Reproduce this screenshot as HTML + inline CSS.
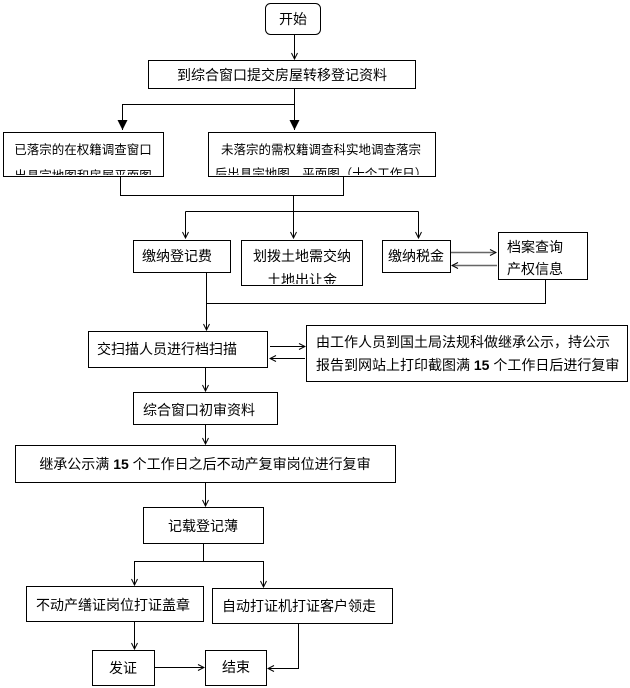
<!DOCTYPE html>
<html><head><meta charset="utf-8"><style>
html,body{margin:0;padding:0;background:#fff;}
svg{display:block;}
text{font-family:"Liberation Sans","Noto Sans CJK SC",sans-serif;font-size:14px;fill:#000;}
.s{font-size:12.5px;}
</style></head><body>
<svg width="630" height="688" viewBox="0 0 630 688" xmlns="http://www.w3.org/2000/svg">
<defs>
<marker id="a" markerWidth="8" markerHeight="8" refX="7" refY="4" orient="auto" markerUnits="userSpaceOnUse"><path d="M1,1 L7,4 L1,7" fill="none" stroke="#000" stroke-width="1"/></marker>
<marker id="b" markerWidth="12" markerHeight="12" refX="10" refY="5" orient="auto" markerUnits="userSpaceOnUse"><path d="M0,0 L10,5 L0,10 z" fill="#000"/></marker>
<clipPath id="c1"><rect x="4" y="133" width="158" height="42"/></clipPath>
<clipPath id="c2"><rect x="209" y="133" width="225" height="42"/></clipPath>
<clipPath id="c3"><rect x="242" y="241" width="119" height="43"/></clipPath>
<clipPath id="c4"><rect x="499" y="233" width="87" height="45"/></clipPath>
</defs>
<g fill="none" stroke="#000" stroke-width="1">
<rect x="265.5" y="3.5" width="55" height="31" rx="5"/>
<rect x="148.5" y="60.5" width="267" height="28"/>
<rect x="3.5" y="132.5" width="160" height="44"/>
<rect x="208.5" y="132.5" width="227" height="44"/>
<rect x="133.5" y="240.5" width="97" height="32"/>
<rect x="241.5" y="240.5" width="121" height="45"/>
<rect x="382.5" y="240.5" width="68" height="32"/>
<rect x="498.5" y="232.5" width="89" height="47"/>
<rect x="88.5" y="331.5" width="179" height="36"/>
<rect x="306.5" y="325.5" width="321" height="56"/>
<rect x="133.5" y="392.5" width="144" height="32"/>
<rect x="15.5" y="445.5" width="380" height="37"/>
<rect x="143.5" y="507.5" width="120" height="36"/>
<rect x="26.5" y="586.5" width="177" height="35"/>
<rect x="212.5" y="588.5" width="180" height="35"/>
<rect x="92.5" y="650.5" width="62" height="35"/>
<rect x="205.5" y="650.5" width="61" height="35"/>

<path d="M294.5 35 V59" marker-end="url(#a)"/>
<path d="M294.5 89 V104.5 H122.5 V130" marker-end="url(#b)"/>
<path d="M294.5 104.5 V130" marker-end="url(#b)"/>
<path d="M120.5 177 V195.5 H343.5 V177"/>
<path d="M293.5 195.5 V238" marker-end="url(#a)"/>
<path d="M185.5 211.5 H418.5"/>
<path d="M185.5 211.5 V238" marker-end="url(#a)"/>
<path d="M418.5 211.5 V238" marker-end="url(#a)"/>
<path d="M451 252.5 H496" stroke="#666" stroke-width="1.5" marker-end="url(#a)"/>
<path d="M497 265.5 H452" stroke="#666" stroke-width="1.5" marker-end="url(#a)"/>
<path d="M206.5 273 V303.5 H545.5 V280"/>
<path d="M206.5 303.5 V330" marker-end="url(#a)"/>
<path d="M270 346.5 H305" marker-end="url(#a)"/>
<path d="M305 358.5 H270" marker-end="url(#a)"/>
<path d="M205.5 368 V391" marker-end="url(#a)"/>
<path d="M205.5 425 V444" marker-end="url(#a)"/>
<path d="M205.5 483 V506" marker-end="url(#a)"/>
<path d="M203.5 544 V561.5 H134.5 V585" marker-end="url(#a)"/>
<path d="M203.5 561.5 H263.5 V587" marker-end="url(#a)"/>
<path d="M134.5 622 V649" marker-end="url(#a)"/>
<path d="M155 667.5 H204" marker-end="url(#a)"/>
<path d="M298.5 624 V668.5 H268" marker-end="url(#a)"/>
</g>
<text x="293" y="24" text-anchor="middle">开始</text>
<text x="282" y="80" text-anchor="middle">到综合窗口提交房屋转移登记资料</text>
<g clip-path="url(#c1)" class="s"><text class="s" x="83" y="154" text-anchor="middle">已落宗的在权籍调查窗口</text><text class="s" x="83" y="180" text-anchor="middle">出具宗地图和房屋平面图</text></g>
<g clip-path="url(#c2)"><text class="s" x="321" y="154" text-anchor="middle">未落宗的需权籍调查科实地调查落宗</text><text class="s" x="321" y="178" text-anchor="middle">后出具宗地图、平面图（十个工作日）</text></g>
<text x="177" y="261" text-anchor="middle">缴纳登记费</text>
<g clip-path="url(#c3)"><text x="302" y="261" text-anchor="middle">划拨土地需交纳</text><text x="302" y="285" text-anchor="middle">土地出让金</text></g>
<text x="416" y="261" text-anchor="middle">缴纳税金</text>
<g clip-path="url(#c4)"><text x="507" y="252">档案查询</text><text x="507" y="274">产权信息</text></g>
<text x="97" y="354">交扫描人员进行档扫描</text>
<text x="316" y="347">由工作人员到国土局法规科做继承公示，持公示</text>
<text x="316" y="370">报告到网站上打印截图满 <tspan font-weight="bold">15</tspan> 个工作日后进行复审</text>
<text x="143" y="415">综合窗口初审资料</text>
<text x="205" y="469" text-anchor="middle">继承公示满 <tspan font-weight="bold">15</tspan> 个工作日之后不动产复审岗位进行复审</text>
<text x="203" y="531" text-anchor="middle">记载登记薄</text>
<text x="36" y="610">不动产缮证岗位打证盖章</text>
<text x="222" y="611">自动打证机打证客户领走</text>
<text x="123" y="673" text-anchor="middle">发证</text>
<text x="236" y="672" text-anchor="middle">结束</text>
</svg>
</body></html>
